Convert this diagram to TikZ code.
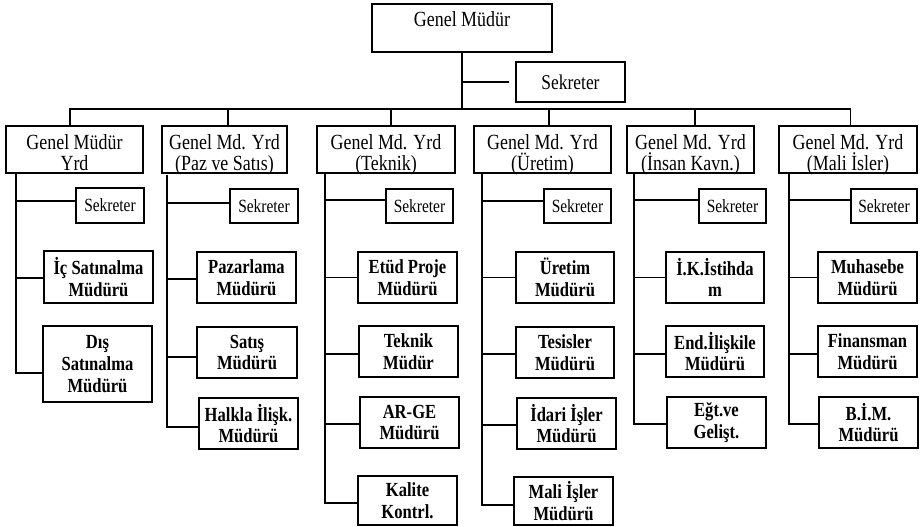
\documentclass[tikz,border=0pt]{standalone}
\usepackage{fontspec}
\setmainfont{Liberation Serif}[FakeStretch=0.83]
\newcommand\yrdtxt[2]{\rule{0pt}{21pt}#1\\\raisebox{0pt}[\height][0pt]{#2}}
\begin{document}
\begin{tikzpicture}[x=1pt,y=-1pt]
\tikzset{
  gmbox/.style={draw, line width=1.5pt, font=\fontsize{21.6}{21}\selectfont, inner sep=0pt},
  sektop/.style={draw, line width=1.5pt, font=\fontsize{21}{21}\selectfont, inner sep=0pt},
  yrdbox/.style={draw, line width=1.3pt, font=\fontsize{21.6}{21}\selectfont, align=center, inner sep=0pt, minimum height=47pt},
  sekbox/.style={draw, line width=1.8pt, font=\fontsize{18.6}{20}\selectfont, inner sep=0pt, minimum height=34pt},
  mgrbox/.style={draw, line width=2.6pt, font=\bfseries\fontsize{20}{21.7}\selectfont, align=center, inner sep=0pt, minimum width=99pt, minimum height=51pt},
  connline/.style={line width=1.8pt}
}
\useasboundingbox (0,0) rectangle (924,527);
\fill[white] (0,0) rectangle (924,527);

% top
\node[gmbox, minimum width=180pt, minimum height=48pt, text height=23pt, text depth=25pt] (gm) at (462,28) {Genel Müdür};
\node[sektop, minimum width=109pt, minimum height=40pt] (sek0) at (570.5,82) {Sekreter};

% row 1
\node[yrdbox, minimum width=137pt] (b1) at (74.5,149.5) {\yrdtxt{Genel Müdür}{Yrd}};
\node[yrdbox, minimum width=125pt] (b2) at (224.5,149.5) {\yrdtxt{Genel Md. Yrd}{(Paz ve Satıs)}};
\node[yrdbox, minimum width=138pt] (b3) at (386,149.5) {\yrdtxt{Genel Md. Yrd}{(Teknik)}};
\node[yrdbox, minimum width=137pt] (b4) at (542.5,149.5) {\yrdtxt{Genel Md. Yrd}{(Üretim)}};
\node[yrdbox, minimum width=127pt] (b5) at (690.5,149.5) {\yrdtxt{Genel Md. Yrd}{(İnsan Kavn.)}};
\node[yrdbox, minimum width=138pt] (b6) at (848,149.5) {\yrdtxt{Genel Md. Yrd}{(Mali İsler)}};

% column 1
\node[sekbox, minimum width=68pt, minimum height=35pt] (s1) at (110,205.5) {Sekreter};
\node[mgrbox, minimum width=109pt, minimum height=52pt] (c1a) at (98.5,277) {İç Satınalma\\Müdürü};
\node[mgrbox, minimum width=109pt, minimum height=76pt] (c1b) at (97.5,364) {Dış\\Satınalma\\Müdürü};

% column 2
\node[sekbox, minimum width=68pt] (s2) at (264,206) {Sekreter};
\node[mgrbox] (c2a) at (246.5,277.5) {Pazarlama\\Müdürü};
\node[mgrbox, minimum width=100pt] (c2b) at (247,352.5) {Satış\\Müdürü};
\node[mgrbox] (c2c) at (248.5,423.5) {Halkla İlişk.\\Müdürü};

% column 3
\node[sekbox, minimum width=67pt] (s3) at (419.5,206) {Sekreter};
\node[mgrbox] (c3a) at (407.5,277.5) {Etüd Proje\\Müdürü};
\node[mgrbox] (c3b) at (408.5,351.5) {Teknik\\Müdür};
\node[mgrbox] (c3c) at (409.5,422.5) {AR-GE\\Müdürü};
\node[mgrbox, minimum height=49pt] (c3d) at (407.5,500.5) {Kalite\\Kontrl.};

% column 4
\node[sekbox, minimum width=67pt] (s4) at (577.5,206) {Sekreter};
\node[mgrbox, minimum width=98pt] (c4a) at (565,277.5) {Üretim\\Müdürü};
\node[mgrbox, minimum width=98pt] (c4b) at (565,352.5) {Tesisler\\Müdürü};
\node[mgrbox] (c4c) at (566.5,423.5) {İdari İşler\\Müdürü};
\node[mgrbox, minimum height=48pt] (c4d) at (563.5,501) {Mali İşler\\Müdürü};

% column 5
\node[sekbox, minimum width=67pt] (s5) at (732.5,206) {Sekreter};
\node[mgrbox, minimum width=98pt] (c5a) at (715,277.5) {İ.K.İstihda\\m};
\node[mgrbox, minimum width=98pt] (c5b) at (715,351.5) {End.İlişkile\\Müdürü};
\node[mgrbox] (c5c) at (716.5,422.5) {Eğt.ve\\Gelişt.};

% column 6
\node[sekbox, minimum width=66pt] (s6) at (884,206) {Sekreter};
\node[mgrbox] (c6a) at (867.5,277.5) {Muhasebe\\Müdürü};
\node[mgrbox] (c6b) at (867.5,351.5) {Finansman\\Müdürü};
\node[mgrbox] (c6c) at (868.5,422.5) {B.İ.M.\\Müdürü};

% top connectors
\draw[connline] (gm.south) -- (gm.south |- 0,110);
\draw[connline] (gm.south |- sek0.west) -- ([xshift=-6pt]sek0.west);
\draw[connline] ([xshift=-4.5pt]b1.north) -- ++(0,-16) -| ([xshift=2.5pt]b6.north);
\draw[connline] ([xshift=3.5pt]b2.north) -- ++(0,-16);
\draw[connline] ([xshift=5pt]b3.north) -- ++(0,-16);
\draw[connline] ([xshift=6.5pt]b4.north) -- ++(0,-16);
\draw[connline] ([xshift=4.5pt]b5.north) -- ++(0,-16);

% trunks
\coordinate (t1) at (16,173);
\coordinate (t2) at (167,175);
\coordinate (t3) at (325,173);
\coordinate (t4) at (482,173);
\coordinate (t5) at (634,173);
\coordinate (t6) at (789,173);

\draw[connline] (t1) |- ([yshift=4.5pt]s1.west);
\draw[connline] (t1) |- ([yshift=-1pt]c1a.west);
\draw[connline] (t1) |- ([yshift=-9pt]c1b.west);

\draw[connline] (t2) |- ([yshift=3pt]s2.west);
\draw[connline] (t2) |- ([yshift=-1.5pt]c2a.west);
\draw[connline] (t2) |- ([yshift=-4.5pt]c2b.west);
\draw[connline] (t2) |- ([yshift=-3.5pt]c2c.west);

\draw[connline] (t3) |- ([yshift=6pt]s3.west);
\draw[connline] (t3) |- (c3a.west);
\draw[connline] (t3) |- ([yshift=-2.5pt]c3b.west);
\draw[connline] (t3) |- ([yshift=-1.5pt]c3c.west);
\draw[connline] (t3) |- ([yshift=-2.5pt]c3d.west);

\draw[connline] (t4) |- ([yshift=5pt]s4.west);
\draw[connline] (t4) |- (c4a.west);
\draw[connline] (t4) |- ([yshift=-1.5pt]c4b.west);
\draw[connline] (t4) |- ([yshift=-1.5pt]c4c.west);
\draw[connline] (t4) |- ([yshift=-4pt]c4d.west);

\draw[connline] (t5) |- ([yshift=6pt]s5.west);
\draw[connline] (t5) |- (c5a.west);
\draw[connline] (t5) |- ([yshift=-2.5pt]c5b.west);
\draw[connline] (t5) |- ([yshift=-1.5pt]c5c.west);

\draw[connline] (t6) |- ([yshift=6pt]s6.west);
\draw[connline] (t6) |- (c6a.west);
\draw[connline] (t6) |- ([yshift=-2.5pt]c6b.west);
\draw[connline] (t6) |- ([yshift=-1.5pt]c6c.west);
\end{tikzpicture}
\end{document}
